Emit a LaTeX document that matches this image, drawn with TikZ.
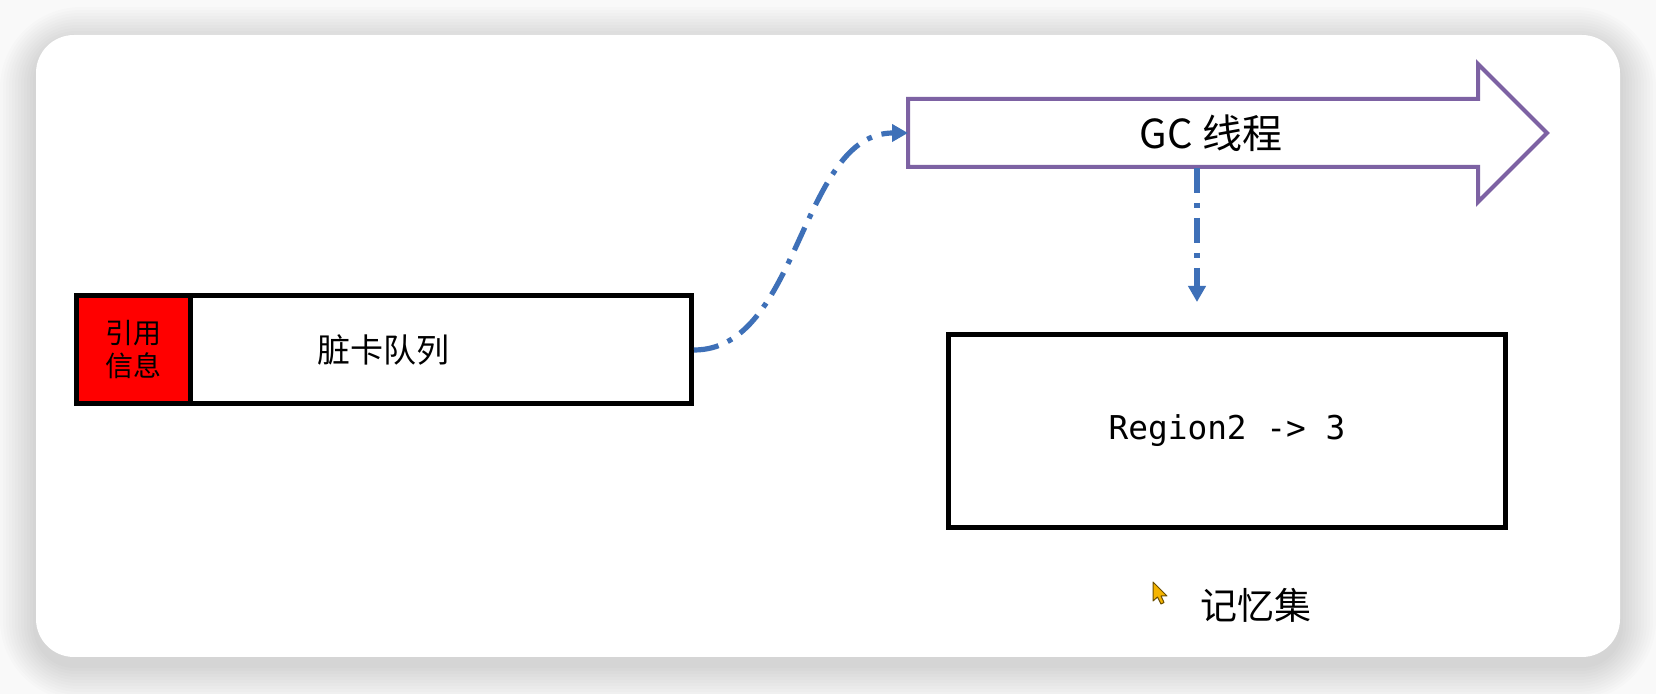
\documentclass[tikz,border=0pt]{standalone}
\usepackage{fontspec}
\setmainfont{Noto Sans CJK SC}
\newfontfamily\monofont{DejaVu Sans Mono}
\usetikzlibrary{arrows.meta}
\definecolor{flowblue}{HTML}{3E70B8}
\definecolor{gcpurple}{HTML}{7D62A3}
\definecolor{cursoryellow}{HTML}{F5B400}
\definecolor{cursoredge}{HTML}{6B4E00}
\tikzset{
  boxthick/.style={draw=black, line width=2.5pt},
  flow/.style={draw=flowblue, line width=2.6pt,
    dash pattern=on 12.5pt off 5pt on 2.5pt off 5pt,
    -{Triangle[length=8pt,width=8.5pt]}},
  gcshape/.style={draw=gcpurple, line width=2pt, fill=white},
}
\begin{document}
\begin{tikzpicture}[x=0.5pt,y=-0.5pt]
\useasboundingbox (0,0) rectangle (1656,694);
% page background and card shadow
\fill[white] (0,0) rectangle (1656,694);
\fill[black!2.5] (0,0) rectangle (1656,694);
\foreach \i [evaluate=\i as \r using 19+\i*1.8, evaluate=\i as \d using \i*3.0] in {1,...,12}{
  \fill[black, opacity=0.01, rounded corners=\r pt]
    (36-\d,35-\d+8) rectangle (1620+\d,657+\d+8);
}
\fill[white, rounded corners=19pt] (36,35) rectangle (1620,657);

% dirty card queue
\node[boxthick, fill=white, minimum width=307.75pt, minimum height=54pt,
      inner sep=0pt, font=\fontsize{16.5pt}{20pt}\selectfont] (queue) at (383.75,350) {脏卡队列};
\node[boxthick, fill=red, minimum width=57.25pt, minimum height=54pt,
      inner sep=0pt, align=center, font=\fontsize{14pt}{16.5pt}\selectfont] (ref) at (133.25,350) {引用\\信息};

% GC thread arrow
\draw[gcshape] (908,99) -- (1478,99) -- (1478,64) -- (1547,133) -- (1478,202)
  -- (1478,167) -- (908,167) -- cycle;
\node[font=\fontsize{20pt}{24pt}\selectfont] (gc) at (1211,133) {GC 线程};
\coordinate (gcin) at (908,133);
\coordinate (gcbot) at (1197,168);

% remembered set
\node[boxthick, minimum width=278.5pt, minimum height=96.5pt,
      inner sep=0pt, font=\monofont\fontsize{16.4pt}{20pt}\selectfont] (rset) at (1227,431) {Region2 -> 3};
\coordinate (rsetin) at (1197,302);
\node[font=\fontsize{18.5pt}{22pt}\selectfont] (rlabel) at (1256,605) {记忆集};

% connectors
\draw[flow] (queue.east) .. controls (800,350) and (800,133) .. (gcin);
\draw[flow] (gcbot) -- (rsetin);

% mouse cursor
\draw[fill=cursoryellow, draw=cursoredge, line width=0.5pt, line join=round]
  (1153,582) -- (1153,601) -- (1157.5,597) -- (1161,604) -- (1164,602.5)
  -- (1161,596) -- (1167,596) -- cycle;
\end{tikzpicture}
\end{document}
